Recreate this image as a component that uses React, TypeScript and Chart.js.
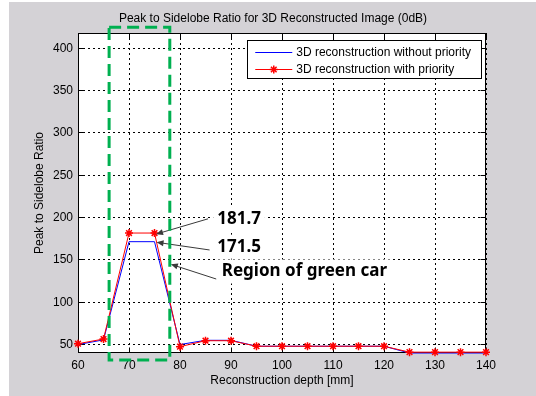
import React, { useEffect, useRef } from "react";
import { Chart, registerables } from "chart.js";

Chart.register(...registerables);

// ---------- data ----------
const chartTitle = "Peak to Sidelobe Ratio for 3D Reconstructed Image (0dB)";
const xAxisTitle = "Reconstruction depth [mm]";
const yAxisTitle = "Peak to Sidelobe Ratio";
const seriesLabels = ["3D reconstruction without priority", "3D reconstruction with priority"];

const depths = [60, 65, 70, 75, 80, 85, 90, 95, 100, 105, 110, 115, 120, 125, 130, 135, 140];
const withoutPriority = [50, 55.5, 171.5, 171.5, 50, 55, 55, 48, 48, 48, 48, 48, 48, 40, 40, 40, 40];
const withPriority = [51, 56.5, 181.7, 181.7, 47.5, 54.5, 54.5, 48, 48, 48, 48, 48, 48, 41, 41, 41, 41];

const xTicks = [60, 70, 80, 90, 100, 110, 120, 130, 140];
const yTicks = [50, 100, 150, 200, 250, 300, 350, 400];
const xRange = [60, 140];
const yRange = [40, 418];

// green dashed region (data units): xMin, xMax, yMin, yMax
const regionBox = [66.1, 78, 31.7, 424.7];
const regionLabel = "Region of green car";
const peakIndex = 3;

// annotations: text anchor (x, y), arrow tail (x, y), arrow tip (x, y) in data units
const labelAnchorsX = [87.3, 87.3, 88.2];
const labelAnchorsY = [198.3, 165.6, 136.3];
const arrowTailsX = [85.5, 85.8, 87.1];
const arrowTailsY = [198.5, 161.7, 127.4];
const arrowTipsX = [75.3, 75.4, 78.2];
const arrowTipsY = [180.4, 170.8, 144.8];

// ---------- styles ----------
const FONT = "'Liberation Sans', Arial, Helvetica, sans-serif";
const FIG_BG = "#d4d2d6";

function drawStar(ctx: CanvasRenderingContext2D, x: number, y: number, r: number) {
  ctx.beginPath();
  for (let k = 0; k < 4; k++) {
    const ang = (k * Math.PI) / 4;
    const dx = Math.cos(ang) * r;
    const dy = Math.sin(ang) * r;
    ctx.moveTo(x - dx, y - dy);
    ctx.lineTo(x + dx, y + dy);
  }
  ctx.stroke();
}

function drawArrow(ctx: CanvasRenderingContext2D, x1: number, y1: number, x2: number, y2: number) {
  const ang = Math.atan2(y2 - y1, x2 - x1);
  const len = 7;
  const hw = 3;
  ctx.beginPath();
  ctx.moveTo(x1, y1);
  ctx.lineTo(x2 - Math.cos(ang) * len * 0.8, y2 - Math.sin(ang) * len * 0.8);
  ctx.stroke();
  ctx.beginPath();
  ctx.moveTo(x2, y2);
  ctx.lineTo(x2 - Math.cos(ang) * len - Math.sin(ang) * hw, y2 - Math.sin(ang) * len + Math.cos(ang) * hw);
  ctx.lineTo(x2 - Math.cos(ang) * len + Math.sin(ang) * hw, y2 - Math.sin(ang) * len - Math.cos(ang) * hw);
  ctx.closePath();
  ctx.fill();
}

const align = (p: number) => Math.round(p - 0.5) + 0.5;

const framePlugin = {
  id: "matlabFrame",
  beforeDraw(chart: any) {
    const { ctx, width, height, chartArea: a } = chart;
    ctx.save();
    ctx.fillStyle = "#ffffff";
    ctx.fillRect(0, 0, width, height);
    ctx.fillStyle = FIG_BG;
    ctx.fillRect(9, 2, width - 9, height - 2);
    ctx.fillStyle = "#ffffff";
    ctx.fillRect(a.left, a.top, a.right - a.left, a.bottom - a.top);
    ctx.restore();
  },
  beforeDatasetsDraw(chart: any) {
    const { ctx, chartArea: a, scales } = chart;
    const xs = scales.x;
    const ys = scales.y;
    ctx.save();

    // white backgrounds of annotation texts (hide grid behind them)
    const texts = [
      withPriority[peakIndex].toFixed(1),
      withoutPriority[peakIndex].toFixed(1),
      regionLabel,
    ];
    ctx.font = `bold 17px 'Noto Sans', 'DejaVu Sans', sans-serif`;
    ctx.fillStyle = "#ffffff";
    for (let i = 0; i < texts.length; i++) {
      const tx = xs.getPixelForValue(labelAnchorsX[i]);
      const ty = ys.getPixelForValue(labelAnchorsY[i]);
      const w = ctx.measureText(texts[i]).width;
      ctx.fillRect(tx - 4, ty - 12, w + 8, 24);
    }

    ctx.strokeStyle = "#000";
    ctx.lineWidth = 1;
    ctx.setLineDash([]);
    const L = align(a.left);
    const R = align(a.right - 1);
    const T = align(a.top);
    const B = align(a.bottom - 1);
    ctx.strokeRect(L, T, R - L, B - T);
    const tl = 5;
    ctx.beginPath();
    for (const v of xTicks) {
      const px = align(xs.getPixelForValue(v));
      ctx.moveTo(px, B);
      ctx.lineTo(px, B - tl);
      ctx.moveTo(px, T);
      ctx.lineTo(px, T + tl);
    }
    for (const v of yTicks) {
      const py = align(ys.getPixelForValue(v));
      ctx.moveTo(L, py);
      ctx.lineTo(L + tl, py);
      ctx.moveTo(R, py);
      ctx.lineTo(R - tl, py);
    }
    ctx.stroke();
    ctx.restore();
  },
  afterDraw(chart: any) {
    const { ctx, chartArea: a, scales } = chart;
    const xs = scales.x;
    const ys = scales.y;
    ctx.save();

    // title
    ctx.fillStyle = "#000";
    ctx.font = `12px ${FONT}`;
    ctx.textAlign = "center";
    ctx.textBaseline = "middle";
    ctx.fillText(chartTitle, (a.left + a.right) / 2 - 9, 19);

    // legend
    const datasets = chart.data.datasets;
    ctx.font = `12px ${FONT}`;
    const maxW = Math.max(...datasets.map((d: any) => ctx.measureText(d.label).width));
    const boxW = 49 + maxW + 10;
    const boxH = 38;
    const boxR = a.right - 5;
    const boxT = a.top + 7;
    const boxL = boxR - boxW;
    ctx.fillStyle = "#fff";
    ctx.fillRect(boxL, boxT, boxW, boxH);
    ctx.strokeStyle = "#000";
    ctx.lineWidth = 1;
    ctx.strokeRect(Math.round(boxL) + 0.5, Math.round(boxT) + 0.5, Math.round(boxW), Math.round(boxH));
    datasets.forEach((d: any, i: number) => {
      const ry = Math.round(boxT + 11.7 + i * 17.6) + 0.5;
      ctx.strokeStyle = d.borderColor;
      ctx.lineWidth = 1;
      ctx.beginPath();
      ctx.moveTo(boxL + 8, ry);
      ctx.lineTo(boxL + 45, ry);
      ctx.stroke();
      if (d.pointStyle === "star") {
        ctx.lineWidth = 1.5;
        drawStar(ctx, boxL + 26.5, ry, 4);
      }
      ctx.fillStyle = "#000";
      ctx.textAlign = "left";
      ctx.textBaseline = "middle";
      ctx.fillText(d.label, boxL + 49, ry);
    });

    // annotations
    const texts = [
      withPriority[peakIndex].toFixed(1),
      withoutPriority[peakIndex].toFixed(1),
      regionLabel,
    ];
    ctx.strokeStyle = "#3a3a3a";
    ctx.fillStyle = "#3a3a3a";
    ctx.lineWidth = 1;
    for (let i = 0; i < texts.length; i++) {
      drawArrow(
        ctx,
        xs.getPixelForValue(arrowTailsX[i]),
        ys.getPixelForValue(arrowTailsY[i]),
        xs.getPixelForValue(arrowTipsX[i]),
        ys.getPixelForValue(arrowTipsY[i])
      );
    }
    ctx.fillStyle = "#000";
    ctx.font = `bold 17px 'Noto Sans', 'DejaVu Sans', sans-serif`;
    ctx.textAlign = "left";
    ctx.textBaseline = "middle";
    for (let i = 0; i < texts.length; i++) {
      ctx.fillText(texts[i], xs.getPixelForValue(labelAnchorsX[i]), ys.getPixelForValue(labelAnchorsY[i]));
    }

    // green dashed region box
    const gx1 = xs.getPixelForValue(regionBox[0]);
    const gx2 = xs.getPixelForValue(regionBox[1]);
    const gy1 = ys.getPixelForValue(regionBox[3]);
    const gy2 = ys.getPixelForValue(regionBox[2]);
    ctx.strokeStyle = "#00b050";
    ctx.lineWidth = 3;
    ctx.setLineDash([12, 6]);
    ctx.strokeRect(gx1, gy1, gx2 - gx1, gy2 - gy1);
    ctx.restore();
  },
};

export default function App() {
  const canvasRef = useRef<HTMLCanvasElement | null>(null);

  useEffect(() => {
    const canvas = canvasRef.current;
    if (!canvas) return;
    const tickFont = { family: FONT, size: 12 };
    const chart = new Chart(canvas, {
      type: "line",
      data: {
        datasets: [
          {
            label: seriesLabels[0],
            data: depths.map((d, i) => ({ x: d, y: withoutPriority[i] })),
            borderColor: "#0000ff",
            backgroundColor: "#0000ff",
            borderWidth: 1,
            pointRadius: 0,
            tension: 0,
            order: 1,
            clip: false,
          },
          {
            label: seriesLabels[1],
            data: depths.map((d, i) => ({ x: d, y: withPriority[i] })),
            borderColor: "#ff0000",
            backgroundColor: "#ff0000",
            borderWidth: 1,
            pointStyle: "star",
            pointRadius: 4,
            pointBorderColor: "#ff0000",
            pointBorderWidth: 1.5,
            tension: 0,
            order: 0,
            clip: false,
          },
        ] as any,
      },
      options: {
        responsive: false,
        animation: false,
        devicePixelRatio: 1,
        layout: { padding: { left: 0, top: 33, right: 50, bottom: 0 } },
        plugins: {
          legend: { display: false },
          tooltip: { enabled: false },
          title: { display: false },
        },
        scales: {
          x: {
            type: "linear",
            min: xRange[0],
            max: xRange[1],
            afterBuildTicks: (s: any) => {
              s.ticks = xTicks.map((v) => ({ value: v }));
            },
            afterFit: (s: any) => {
              s.height = 43;
            },
            grid: { color: "#000", lineWidth: 1, drawTicks: false },
            border: { display: false, dash: [2, 3] },
            ticks: { padding: 5, color: "#000", font: tickFont, maxRotation: 0, autoSkip: false },
            title: {
              display: true,
              text: xAxisTitle,
              color: "#000",
              font: tickFont,
              padding: { top: 0, bottom: 7.8 },
            },
          },
          y: {
            type: "linear",
            min: yRange[0],
            max: yRange[1],
            afterBuildTicks: (s: any) => {
              s.ticks = yTicks.map((v) => ({ value: v }));
            },
            afterFit: (s: any) => {
              s.width = 78;
            },
            grid: { color: "#000", lineWidth: 1, drawTicks: false },
            border: { display: false, dash: [2, 3] },
            ticks: { padding: 5, color: "#000", font: tickFont, autoSkip: false },
            title: {
              display: true,
              text: yAxisTitle,
              color: "#000",
              font: tickFont,
              padding: { top: 32.8, bottom: 0 },
            },
          },
        },
      } as any,
      plugins: [framePlugin as any],
    });
    return () => chart.destroy();
  }, []);

  return (
    <div style={{ position: "absolute", left: 0, top: 0, width: 536, height: 396 }}>
      <canvas ref={canvasRef} width={536} height={396} style={{ display: "block", width: 536, height: 396 }} />
    </div>
  );
}
